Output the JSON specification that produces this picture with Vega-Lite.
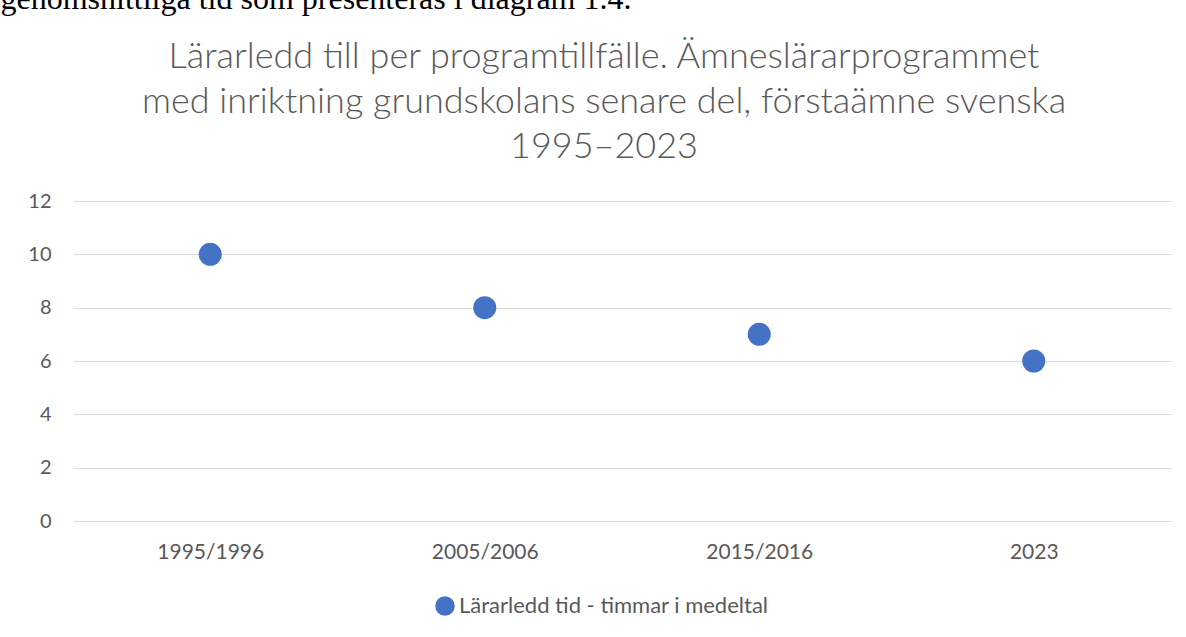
{
  "$schema": "https://vega.github.io/schema/vega-lite/v6.json",
  "autosize": {"type": "none"},
  "width": 1098,
  "height": 320,
  "padding": {"left": 73, "top": 201, "right": 15, "bottom": 116},
  "background": "white",
  "data": {
    "values": [
      {"period": "1995/1996", "timmar": 10, "serie": "Lärarledd tid - timmar i medeltal"},
      {"period": "2005/2006", "timmar": 8, "serie": "Lärarledd tid - timmar i medeltal"},
      {"period": "2015/2016", "timmar": 7, "serie": "Lärarledd tid - timmar i medeltal"},
      {"period": "2023", "timmar": 6, "serie": "Lärarledd tid - timmar i medeltal"}
    ]
  },
  "title": {
    "text": ["Lärarledd till per programtillfälle. Ämneslärarprogrammet", "med inriktning grundskolans senare del, förstaämne svenska", "1995–2023"],
    "font": "Lato",
    "fontSize": 36,
    "fontWeight": 300,
    "color": "#595959",
    "lineHeight": 45,
    "anchor": "middle",
    "dx": -18,
    "offset": -184
  },
  "mark": {"type": "circle", "size": 531, "opacity": 1},
  "encoding": {
    "x": {
      "field": "period",
      "type": "ordinal",
      "sort": null,
      "scale": {"type": "point", "padding": 0.5},
      "axis": {
        "title": null,
        "labelAngle": 0,
        "labelFont": "Lato",
        "labelFontSize": 21,
        "labelColor": "#595959",
        "labelPadding": 20,
        "domain": false,
        "ticks": false,
        "tickSize": 0,
        "grid": false
      }
    },
    "y": {
      "field": "timmar",
      "type": "quantitative",
      "scale": {"domain": [0, 12]},
      "axis": {
        "values": [0, 2, 4, 6, 8, 10, 12],
        "title": "genomsnittliga tid som presenteras i diagram 1.4.",
        "titleAngle": 0,
        "titleAlign": "left",
        "titleBaseline": "alphabetic",
        "titleX": -73,
        "titleY": -193,
        "titleFont": "Liberation Serif",
        "titleFontSize": 32,
        "titleFontWeight": "normal",
        "titleColor": "#000000",
        "labelFont": "Lato",
        "labelFontSize": 20,
        "labelColor": "#595959",
        "labelPadding": 22,
        "domain": false,
        "ticks": false,
        "tickSize": 0,
        "grid": true,
        "gridColor": "#d9d9d9",
        "gridWidth": 1
      }
    },
    "color": {
      "field": "serie",
      "type": "nominal",
      "scale": {"range": ["#4472C4"]},
      "legend": {
        "title": null,
        "orient": "none",
        "legendX": 361,
        "legendY": 394,
        "padding": 0,
        "symbolType": "circle",
        "symbolSize": 380,
        "symbolOpacity": 1,
        "symbolStrokeWidth": 0,
        "labelFont": "Lato",
        "labelFontSize": 22,
        "labelColor": "#595959",
        "labelOffset": 3,
        "labelLimit": 500
      }
    }
  },
  "config": {"view": {"stroke": null}}
}
